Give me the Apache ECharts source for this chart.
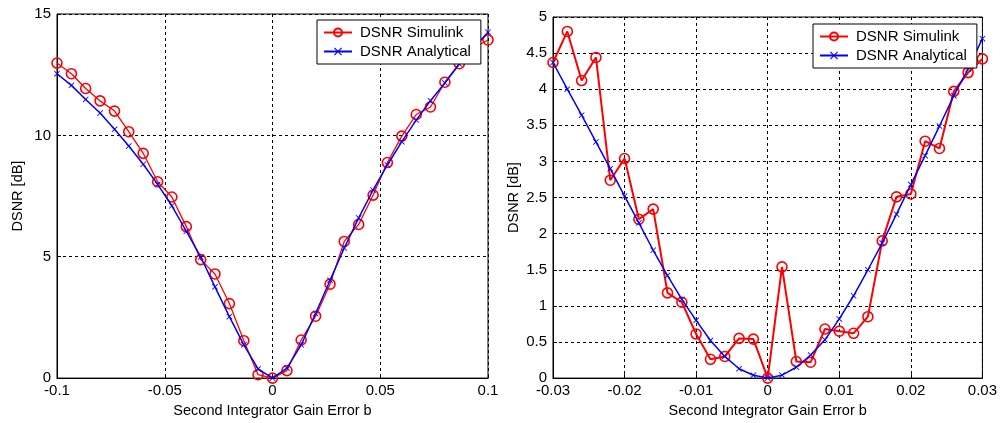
<!DOCTYPE html>
<html>
<head>
<meta charset="utf-8">
<script src="https://cdn.jsdelivr.net/npm/echarts@6/dist/echarts.min.js"></script>
<style>
  html, body { margin: 0; padding: 0; background: #fff; }
  #chart { width: 1000px; height: 423px; }
</style>
</head>
<body>
<div id="chart"></div>
<script>
// Sweep of the second integrator gain error b, wide range (left panel)
const bWide = [-0.1, -0.0933, -0.0867, -0.08, -0.0733, -0.0667, -0.06, -0.0533, -0.0467, -0.04,
  -0.0333, -0.0267, -0.02, -0.0133, -0.0067, 0, 0.0067, 0.0133, 0.02, 0.0267,
  0.0333, 0.04, 0.0467, 0.0533, 0.06, 0.0667, 0.0733, 0.08, 0.0867, 0.0933, 0.1];
const simWide = [12.98, 12.54, 11.93, 11.42, 11.0, 10.15, 9.26, 8.09, 7.46, 6.24,
  4.88, 4.29, 3.07, 1.54, 0.14, 0.0, 0.31, 1.57, 2.55, 3.87,
  5.63, 6.33, 7.54, 8.88, 9.97, 10.86, 11.17, 12.19, 12.95, 13.6, 13.93];
const anaWide = [12.54, 12.06, 11.48, 10.92, 10.25, 9.56, 8.81, 7.98, 7.10, 6.05,
  4.99, 3.76, 2.53, 1.37, 0.38, 0.0, 0.41, 1.37, 2.66, 4.03,
  5.36, 6.60, 7.75, 8.78, 9.74, 10.63, 11.43, 12.16, 12.94, 13.6, 14.25];

// Fine sweep around zero (right panel)
const bFine = [-0.03, -0.028, -0.026, -0.024, -0.022, -0.02, -0.018, -0.016, -0.014, -0.012,
  -0.01, -0.008, -0.006, -0.004, -0.002, 0, 0.002, 0.004, 0.006, 0.008,
  0.01, 0.012, 0.014, 0.016, 0.018, 0.02, 0.022, 0.024, 0.026, 0.028, 0.03];
const simFine = [4.37, 4.80, 4.12, 4.44, 2.74, 3.04, 2.20, 2.34, 1.18, 1.05,
  0.61, 0.26, 0.30, 0.55, 0.54, 0.0, 1.54, 0.23, 0.22, 0.68,
  0.65, 0.62, 0.85, 1.90, 2.51, 2.55, 3.28, 3.18, 3.97, 4.23, 4.42];
const anaFine = [4.37, 4.00, 3.64, 3.27, 2.90, 2.52, 2.15, 1.77, 1.42, 1.09,
  0.80, 0.52, 0.30, 0.13, 0.04, 0.0, 0.04, 0.15, 0.32, 0.53,
  0.82, 1.14, 1.50, 1.87, 2.27, 2.68, 3.08, 3.49, 3.91, 4.28, 4.70];

const xTicksWide = { min: -0.1, max: 0.1, interval: 0.05 };
const xTicksFine = { min: -0.03, max: 0.03, interval: 0.01 };
const yTicksWide = { min: 0, max: 15, interval: 5 };
const yTicksFine = { min: 0, max: 5, interval: 0.5 };

const SIM_NAME = 'DSNR Simulink';
const ANA_NAME = 'DSNR Analytical';
const X_TITLE = 'Second Integrator Gain Error b';
const Y_TITLE = 'DSNR [dB]';

const FONT = 'Liberation Sans, Arial, sans-serif';
const crossPath = 'path://M0,1L1,0L5,4L9,0L10,1L6,5L10,9L9,10L5,6L1,10L0,9L4,5Z';

const pairs = (xs, ys) => xs.map((x, i) => [x, ys[i]]);
const fmt = v => String(Number(v.toFixed(4)));

function xAxis(gridIndex, ticks) {
  return {
    type: 'value', gridIndex,
    min: ticks.min, max: ticks.max, interval: ticks.interval,
    name: X_TITLE, nameLocation: 'middle', nameGap: 23,
    nameTextStyle: { color: '#000', fontSize: 14.5, fontFamily: FONT },
    axisLine: { show: true, onZero: false, lineStyle: { color: '#000', width: 1 } },
    axisTick: { show: true, inside: true, length: 4, lineStyle: { color: '#000' } },
    axisLabel: { color: '#000', fontSize: 15, fontFamily: FONT, margin: 5, formatter: fmt },
    splitLine: { show: true, lineStyle: { color: '#000', type: [3, 3], width: 1 } }
  };
}

function yAxis(gridIndex, ticks) {
  return {
    type: 'value', gridIndex,
    min: ticks.min, max: ticks.max, interval: ticks.interval,
    name: Y_TITLE, nameLocation: 'middle', nameGap: 32, nameRotate: 90,
    nameTextStyle: { color: '#000', fontSize: 14.5, fontFamily: FONT },
    axisLine: { show: true, onZero: false, lineStyle: { color: '#000', width: 1 } },
    axisTick: { show: true, inside: true, length: 4, lineStyle: { color: '#000' } },
    axisLabel: { color: '#000', fontSize: 15, fontFamily: FONT, margin: 6, formatter: fmt },
    splitLine: { show: true, lineStyle: { color: '#000', type: [3, 3], width: 1 } }
  };
}

function simSeries(idx, xs, ys, width) {
  return {
    name: SIM_NAME, type: 'line', xAxisIndex: idx, yAxisIndex: idx,
    data: pairs(xs, ys),
    symbol: 'circle', symbolSize: 10, showAllSymbol: true,
    lineStyle: { color: '#ff0000', width },
    itemStyle: { color: 'rgba(255,255,255,0)', borderColor: '#ff0000', borderWidth: 1.6 },
    emphasis: { disabled: true }, animation: false, z: 2
  };
}

function anaSeries(idx, xs, ys) {
  return {
    name: ANA_NAME, type: 'line', xAxisIndex: idx, yAxisIndex: idx,
    data: pairs(xs, ys),
    symbol: crossPath, symbolSize: 6, showAllSymbol: true,
    lineStyle: { color: '#0000ff', width: 1.5 },
    itemStyle: { color: '#0000ff', borderWidth: 0 },
    emphasis: { disabled: true }, animation: false, z: 3
  };
}

function legend(left, top) {
  return {
    left, top, orient: 'vertical',
    data: [SIM_NAME, ANA_NAME],
    backgroundColor: '#fff', borderColor: '#000', borderWidth: 1,
    padding: [5, 10, 5, 6], itemGap: 4, itemWidth: 28, itemHeight: 10,
    textStyle: { color: '#000', fontSize: 15, fontFamily: FONT, padding: [0, 0, 0, 3] },
    selectedMode: false, z: 10
  };
}

const chart = echarts.init(document.getElementById('chart'), null, { renderer: 'canvas' });
chart.setOption({
  backgroundColor: '#fff',
  animation: false,
  grid: [
    { left: 57, right: 512, top: 14, bottom: 43, show: true, borderColor: '#000', borderWidth: 1, backgroundColor: '#fff' },
    { left: 553, right: 16, top: 17, bottom: 40, show: true, borderColor: '#000', borderWidth: 1, backgroundColor: '#fff' }
  ],
  xAxis: [xAxis(0, xTicksWide), xAxis(1, xTicksFine)],
  yAxis: [yAxis(0, yTicksWide), yAxis(1, yTicksFine)],
  legend: [legend(317, 20), legend(813, 24)],
  series: [
    simSeries(0, bWide, simWide, 1.3),
    anaSeries(0, bWide, anaWide),
    simSeries(1, bFine, simFine, 2),
    anaSeries(1, bFine, anaFine)
  ]
});
</script>
</body>
</html>
